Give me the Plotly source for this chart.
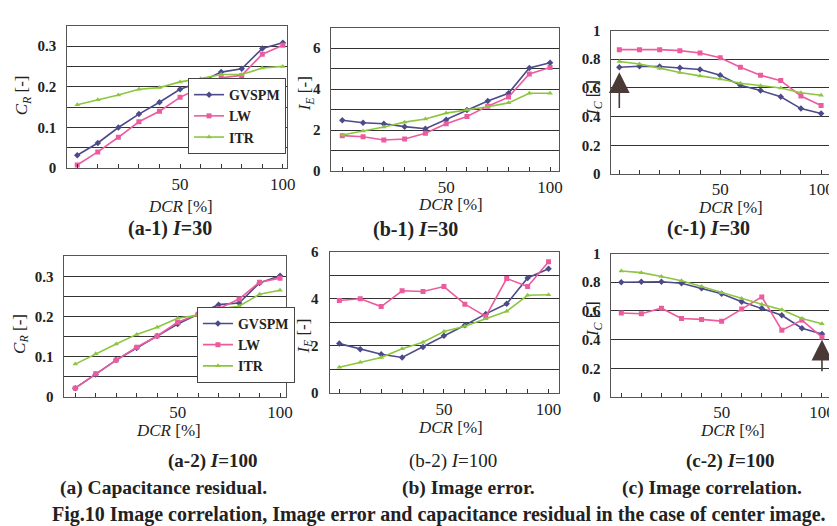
import plotly.graph_objects as go

W, H = 837, 526
DCR = [0, 10, 20, 30, 40, 50, 60, 70, 80, 90, 100]

# (a-1) capacitance residual, I=30
a1_gvspm = [0.032, 0.062, 0.100, 0.133, 0.162, 0.194, 0.212, 0.236, 0.244, 0.294, 0.308]
a1_lw    = [0.008, 0.040, 0.076, 0.114, 0.140, 0.174, 0.198, 0.222, 0.228, 0.280, 0.302]
a1_itr   = [0.156, 0.168, 0.180, 0.194, 0.198, 0.212, 0.220, 0.230, 0.230, 0.246, 0.250]
# (b-1) image error, I=30
b1_gvspm = [2.48, 2.36, 2.31, 2.17, 2.07, 2.51, 2.98, 3.42, 3.80, 5.03, 5.29]
b1_lw    = [1.73, 1.68, 1.52, 1.57, 1.85, 2.31, 2.67, 3.17, 3.61, 4.74, 5.06]
b1_itr   = [1.76, 1.96, 2.15, 2.39, 2.54, 2.83, 2.98, 3.14, 3.33, 3.80, 3.80]
# (c-1) image correlation, I=30
c1_gvspm = [0.744, 0.751, 0.749, 0.740, 0.729, 0.689, 0.618, 0.582, 0.538, 0.456, 0.422]
c1_lw    = [0.867, 0.867, 0.867, 0.860, 0.844, 0.811, 0.744, 0.689, 0.651, 0.544, 0.478]
c1_itr   = [0.784, 0.767, 0.738, 0.707, 0.684, 0.662, 0.633, 0.616, 0.600, 0.567, 0.549]
# (a-2) capacitance residual, I=100
a2_gvspm = [0.022, 0.056, 0.092, 0.122, 0.152, 0.182, 0.206, 0.230, 0.234, 0.284, 0.302]
a2_lw    = [0.022, 0.058, 0.092, 0.124, 0.152, 0.186, 0.206, 0.220, 0.244, 0.286, 0.296]
a2_itr   = [0.082, 0.108, 0.132, 0.156, 0.174, 0.196, 0.204, 0.220, 0.226, 0.256, 0.266]
# (b-2) image error, I=100
b2_gvspm = [2.10, 1.86, 1.65, 1.51, 1.96, 2.43, 2.88, 3.36, 3.79, 4.88, 5.27]
b2_lw    = [3.93, 4.00, 3.67, 4.34, 4.31, 4.52, 3.77, 3.25, 4.86, 4.52, 5.57]
b2_itr   = [1.10, 1.31, 1.51, 1.88, 2.16, 2.61, 2.84, 3.15, 3.47, 4.15, 4.17]
# (c-2) image correlation, I=100
c2_gvspm = [0.800, 0.804, 0.804, 0.793, 0.759, 0.720, 0.664, 0.619, 0.570, 0.480, 0.439]
c2_lw    = [0.586, 0.581, 0.619, 0.547, 0.541, 0.529, 0.613, 0.698, 0.466, 0.536, 0.417]
c2_itr   = [0.878, 0.867, 0.840, 0.810, 0.770, 0.727, 0.687, 0.646, 0.608, 0.547, 0.511]

SERIES = ["GVSPM", "LW", "ITR"]
COLORS = {"GVSPM": "#4d4a8a", "LW": "#ec5b9d", "ITR": "#8cc63f"}
SYMBOLS = {"GVSPM": "diamond", "LW": "square", "ITR": "triangle-up"}

FONT = "Liberation Serif"

# panel boxes in pixels: (left, right, top, bottom)
panels = [
    dict(box=(60, 282, 10, 157), xr=[-4.8, 102], yr=[0, 0.35], dt=0.1, mdt=0.05,
         data=[a1_gvspm, a1_lw, a1_itr], legend="legend"),
    dict(box=(327, 557, 12, 160), xr=[-5.2, 104.3], yr=[0, 7], dt=2, mdt=1,
         data=[b1_gvspm, b1_lw, b1_itr], legend=None),
    dict(box=(610, 835, 15, 163), xr=[-3.9, 106.4], yr=[0, 1], dt=0.2, mdt=0.2,
         data=[c1_gvspm, c1_lw, c1_itr], legend=None),
    dict(box=(57, 281, 248, 393), xr=[-5.3, 102.9], yr=[0, 0.35], dt=0.1, mdt=0.05,
         data=[a2_gvspm, a2_lw, a2_itr], legend="legend2"),
    dict(box=(325, 557, 243, 389), xr=[-4.7, 105], yr=[0, 6], dt=2, mdt=1,
         data=[b2_gvspm, b2_lw, b2_itr], legend=None),
    dict(box=(610, 835, 245, 393), xr=[-4.9, 106], yr=[0, 1], dt=0.2, mdt=0.2,
         data=[c2_gvspm, c2_lw, c2_itr], legend=None),
]

fig = go.Figure()
layout = dict(
    width=W, height=H, margin=dict(l=0, r=0, t=0, b=0),
    paper_bgcolor="white", plot_bgcolor="white",
    font=dict(family=FONT, color="#222222"),
    showlegend=True,
)

for i, p in enumerate(panels):
    n = "" if i == 0 else str(i + 1)
    l, r, t, b = p["box"]
    xa = dict(domain=[l / W, r / W], range=p["xr"], anchor="y" + n,
              tickvals=[50, 100], ticks="inside", ticklen=4, tickcolor="#333",
              minor=dict(tick0=0, dtick=10, ticks="inside", ticklen=4, tickcolor="#333"),
              showgrid=False, zeroline=False, showline=True, mirror=True,
              linecolor="#555", linewidth=1,
              tickfont=dict(family=FONT, size=17, color="#222"))
    ya = dict(domain=[1 - b / H, 1 - t / H], range=p["yr"], anchor="x" + n,
              dtick=p["dt"], tick0=0, showgrid=True, gridcolor="#333", gridwidth=1,
              minor=dict(dtick=p["mdt"], showgrid=True, gridcolor="#333", gridwidth=1),
              zeroline=False, showline=True, mirror=True, linecolor="#555", linewidth=1,
              ticks="", ticklabelstandoff=7,
              tickfont=dict(family=FONT, size=15, color="#222", weight="bold"))
    layout["xaxis" + n] = xa
    layout["yaxis" + n] = ya
    for s, ys in zip(SERIES, p["data"]):
        fig.add_trace(go.Scatter(
            x=DCR, y=ys, mode="lines+markers", name=s,
            xaxis="x" + n, yaxis="y" + n,
            line=dict(color=COLORS[s], width=1.6),
            marker=dict(color=COLORS[s], symbol=SYMBOLS[s], size=5),
            legend=p["legend"] if p["legend"] else "legend",
            showlegend=p["legend"] is not None,
        ))

leg_common = dict(bgcolor="white", bordercolor="#444", borderwidth=1,
                  font=dict(family=FONT, size=14, color="#222", weight="bold"),
                  xanchor="left", yanchor="top", itemwidth=30, tracegroupgap=0,
                  yref="paper", xref="paper")
layout["legend"] = dict(x=182 / W, y=1 - 64 / H, **leg_common)
layout["legend2"] = dict(x=191 / W, y=1 - 300 / H, **leg_common)

ann = []
def txt(x, y, s, size=15, angle=0, bold=False):
    ann.append(dict(x=x / W, y=1 - y / H, xref="paper", yref="paper", text=s,
                    showarrow=False, textangle=angle, xanchor="center", yanchor="middle",
                    font=dict(family=FONT, size=size, color="#222",
                              weight="bold" if bold else "normal")))

# x-axis titles
for x, y in [(174, 196), (447, 194), (730, 197), (162, 427), (447, 424), (732, 427)]:
    txt(x, y, "<i>DCR</i> [%]", size=17)
# y-axis titles
txt(15, 82, "<i>C<sub>R</sub></i> [-]", size=17, angle=-90)
txt(301, 80, "<i>I<sub>E</sub></i> [-]", size=17, angle=-90)
txt(593, 85, "<i>I<sub>C</sub></i> [-]", size=17, angle=-90)
txt(13, 328, "<i>C<sub>R</sub></i> [-]", size=17, angle=-90)
txt(300, 330, "<i>I<sub>E</sub></i> [-]", size=17, angle=-90)
txt(593, 313, "<i>I<sub>C</sub></i> [-]", size=17, angle=-90)
# sub captions
txt(164, 219, "(a-1) <i>I</i>=30", size=20, bold=True)
txt(412, 220, "(b-1) <i>I</i>=30", size=20, bold=True)
txt(708, 219, "(c-1) <i>I</i>=30", size=20, bold=True)
txt(207, 459, "(a-2) <i>I</i>=100", size=19, bold=True)
txt(450, 459, "(b-2) <i>I</i>=100", size=19)
txt(730, 459, "(c-2) <i>I</i>=100", size=19, bold=True)
txt(157, 487, "(a) Capacitance residual.", size=19.5, bold=True)
txt(465, 487, "(b) Image error.", size=19.5, bold=True)
txt(712, 487, "(c) Image correlation.", size=19.5, bold=True)
txt(436, 514, "Fig.10 Image correlation, Image error and capacitance residual in the case of center image.",
    size=20, bold=True)

# arrows
ann.append(dict(x=0, y=0.71, xref="x3", yref="y3", ax=0, ay=0.45, axref="x3", ayref="y3",
                showarrow=True, arrowhead=2, arrowsize=2.6, arrowwidth=1.6,
                arrowcolor="#4a3a36", text=""))
ann.append(dict(x=100, y=0.40, xref="x6", yref="y6", ax=100, ay=0.17, axref="x6", ayref="y6",
                showarrow=True, arrowhead=2, arrowsize=2.6, arrowwidth=1.6,
                arrowcolor="#4a3a36", text=""))
layout["annotations"] = ann

fig.update_layout(**layout)
fig.write_html("out.html")
